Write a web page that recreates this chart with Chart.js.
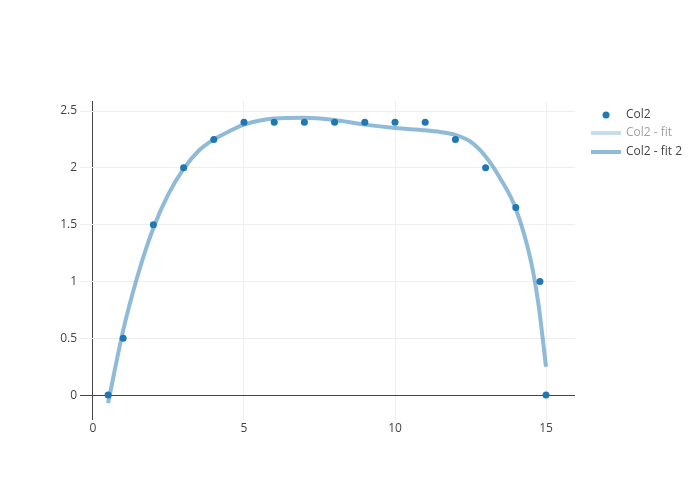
<!DOCTYPE html>
<html>
<head>
<meta charset="utf-8">
<script src="https://cdn.jsdelivr.net/npm/chart.js@4"></script>
<style>
  html, body { margin: 0; padding: 0; background: #fff; }
  #wrap { width: 700px; height: 500px; }
</style>
</head>
<body>
<div id="wrap"><canvas id="chart" width="700" height="500"></canvas></div>
<script>
// measured points
const col2X = [0.5, 1, 2, 3, 4, 5, 6, 7, 8, 9, 10, 11, 12, 13, 14, 14.8, 15];
const col2Y = [0, 0.5, 1.5, 2, 2.25, 2.4, 2.4, 2.4, 2.4, 2.4, 2.4, 2.4, 2.25, 2, 1.65, 1, 0];

// fitted curve (fit 2)
const fitX = [0.5, 1, 1.5, 2, 2.5, 3, 3.5, 4, 4.5, 5, 6, 7, 8, 9, 10, 11, 11.5, 12, 12.5, 13, 13.5, 14, 14.5, 14.75, 15];
const fitY = [-0.07, 0.57, 1.07, 1.47, 1.77, 1.99, 2.15, 2.25, 2.32, 2.38, 2.435, 2.44, 2.42, 2.38, 2.35, 2.33, 2.315, 2.29, 2.23, 2.1, 1.9, 1.64, 1.18, 0.8, 0.25];

const xTicks = [0, 5, 10, 15];
const yTicks = [0, 0.5, 1, 1.5, 2, 2.5];

const seriesNames = ['Col2', 'Col2 - fit', 'Col2 - fit 2'];

const blue = '#1f77b4';
const fitBlue = 'rgba(31,119,180,0.5)';

function toPoints(xs, ys) {
    return xs.map((x, i) => ({ x: x, y: ys[i] }));
}

// plotly style legend on the right
const sideLegend = {
    id: 'sideLegend',
    afterDraw(chart) {
        const ctx = chart.ctx;
        const rows = [115, 133, 152];
        ctx.save();
        ctx.font = '12px "Open Sans"';
        ctx.textBaseline = 'middle';
        ctx.textAlign = 'left';

        // Col2 marker
        ctx.fillStyle = blue;
        ctx.beginPath();
        ctx.arc(606, rows[0], 3.5, 0, Math.PI * 2);
        ctx.fill();
        ctx.fillStyle = '#444';
        ctx.fillText(seriesNames[0], 626, rows[0]);

        // legend-only trace (greyed)
        ctx.strokeStyle = 'rgba(31,119,180,0.25)';
        ctx.lineWidth = 4;
        ctx.beginPath();
        ctx.moveTo(591, rows[1]);
        ctx.lineTo(621, rows[1]);
        ctx.stroke();
        ctx.fillStyle = '#a2a2a2';
        ctx.fillText(seriesNames[1], 626, rows[1]);

        // fit 2
        ctx.strokeStyle = fitBlue;
        ctx.beginPath();
        ctx.moveTo(591, rows[2]);
        ctx.lineTo(621, rows[2]);
        ctx.stroke();
        ctx.fillStyle = '#444';
        ctx.fillText(seriesNames[2], 626, rows[2]);
        ctx.restore();
    }
};

const gridColor = (c) => (c.tick && c.tick.value === 0) ? '#444' : '#eeeeee';

new Chart(document.getElementById('chart'), {
    type: 'scatter',
    data: {
        datasets: [
            {
                label: seriesNames[0],
                data: toPoints(col2X, col2Y),
                showLine: false,
                pointRadius: 3.5,
                pointBorderWidth: 0,
                pointBackgroundColor: blue,
                backgroundColor: blue
            },
            {
                label: seriesNames[2],
                data: toPoints(fitX, fitY),
                showLine: true,
                pointRadius: 0,
                borderColor: fitBlue,
                borderWidth: 4,
                tension: 0.4,
                cubicInterpolationMode: 'monotone',
                fill: false
            }
        ]
    },
    options: {
        responsive: false,
        animation: false,
        layout: { padding: { top: 101, right: 125, left: 0, bottom: 0 } },
        plugins: {
            legend: { display: false },
            tooltip: { enabled: false }
        },
        scales: {
            x: {
                type: 'linear',
                min: -0.43,
                max: 15.96,
                afterBuildTicks: (s) => { s.ticks = xTicks.map(v => ({ value: v })); },
                afterFit: (s) => { s.height = 80; },
                grid: { color: gridColor, lineWidth: 1, drawTicks: false },
                border: { display: false },
                ticks: {
                    color: '#444',
                    font: { family: 'Open Sans', size: 12 },
                    padding: 1,
                    maxRotation: 0,
                    callback: (v) => String(v)
                }
            },
            y: {
                type: 'linear',
                min: -0.219,
                max: 2.588,
                afterBuildTicks: (s) => { s.ticks = yTicks.map(v => ({ value: v })); },
                afterFit: (s) => { s.width = 80; },
                grid: { color: gridColor, lineWidth: 1, drawTicks: false },
                border: { display: false },
                ticks: {
                    color: '#444',
                    font: { family: 'Open Sans', size: 12 },
                    padding: 3,
                    callback: (v) => String(v)
                }
            }
        }
    },
    plugins: [sideLegend]
});
</script>
</body>
</html>
